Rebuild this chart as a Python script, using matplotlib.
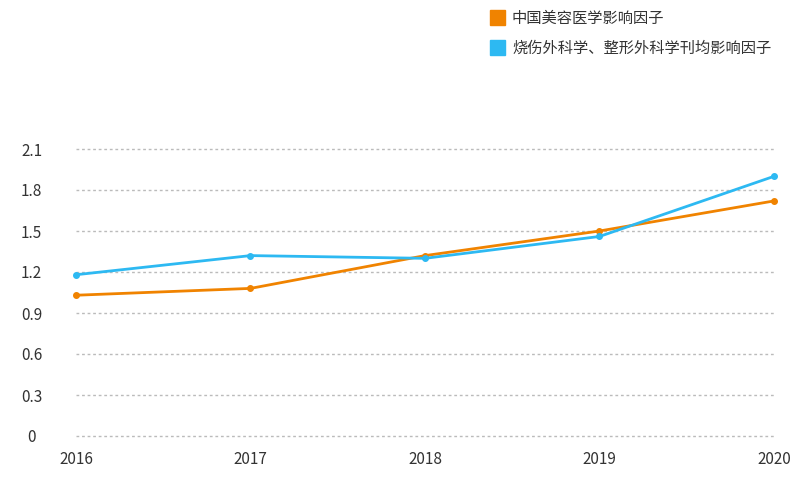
import matplotlib
matplotlib.use("Agg")
import matplotlib.pyplot as plt
from matplotlib.patches import Rectangle

plt.rcParams['font.family'] = ['Noto Sans CJK SC', 'DejaVu Sans']

years = ['2016', '2017', '2018', '2019', '2020']
series_names = ['中国美容医学影响因子', '烧伤外科学、整形外科学刊均影响因子']
orange_vals = [1.03, 1.08, 1.32, 1.50, 1.72]
blue_vals = [1.18, 1.32, 1.30, 1.46, 1.90]
yticks = [0, 0.3, 0.6, 0.9, 1.2, 1.5, 1.8, 2.1]
ytick_labels = ['0', '0.3', '0.6', '0.9', '1.2', '1.5', '1.8', '2.1']

orange = '#F08300'
blue = '#2DB9F2'

fig = plt.figure(figsize=(8.04, 4.79), dpi=100)
ax = fig.add_axes([76/804, 43/479, (774-76)/804, (436-149)/479])
x = list(range(len(years)))
ax.plot(x, orange_vals, color=orange, lw=2, marker='o', ms=4, zorder=3, clip_on=False)
ax.plot(x, blue_vals, color=blue, lw=2, marker='o', ms=4, zorder=4, clip_on=False)

ax.set_xlim(0, len(years)-1)
ax.set_ylim(0, 2.1)
ax.set_xticks(x)
ax.set_xticklabels(years)
ax.set_yticks(yticks)
ax.set_yticklabels(ytick_labels)
ax.tick_params(axis='both', length=0, labelsize=11, colors='#333333')
ax.tick_params(axis='x', pad=11)
ax.tick_params(axis='y', pad=32)
for lab in ax.get_yticklabels():
    lab.set_horizontalalignment('center')
for s in ax.spines.values():
    s.set_visible(False)
ax.yaxis.grid(True, color='#bbbbbb', linestyle=(0, (2, 2)), lw=1)
for gl in ax.get_ygridlines():
    gl.set_clip_on(False)
ax.set_axisbelow(True)

# legend
for i, (name, c) in enumerate(zip(series_names, [orange, blue])):
    yc = 18 + 30 * i
    fig.patches.append(Rectangle((490/804, 1 - (yc+7)/479), 15/804, 15/479,
                                 transform=fig.transFigure, color=c, figure=fig))
    fig.text(512/804, 1 - yc/479, name, fontsize=11, color='#333333', va='center', ha='left')

fig.savefig('out.png', dpi=100)
